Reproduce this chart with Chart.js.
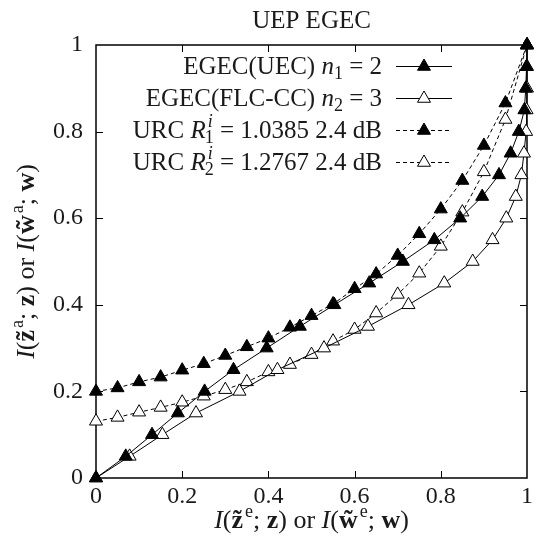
<!DOCTYPE html>
<html>
<head>
<meta charset="utf-8">
<title>UEP EGEC</title>
<script src="https://cdn.jsdelivr.net/npm/chart.js@4"></script>
<style>
  html, body { margin: 0; padding: 0; background: #fff; }
  canvas { display: block; }
</style>
</head>
<body>
<canvas id="exitChart" width="537" height="544"></canvas>
<script>
// EXIT chart data.
// EGEC curves are plotted inverted: y is fixed in 0.05 steps, x varies.
const egecY = [0, 0.05, 0.1, 0.15, 0.2, 0.25, 0.3, 0.35, 0.4, 0.45, 0.5,
  0.55, 0.6, 0.65, 0.7, 0.75, 0.8, 0.85, 0.9, 0.95, 1];
const uecX = [0, 0.069, 0.13, 0.19, 0.252, 0.319, 0.396, 0.473, 0.553, 0.634, 0.712,
  0.785, 0.845, 0.896, 0.935, 0.962, 0.981, 0.994, 0.997, 0.999, 1];
const flcX = [0, 0.078, 0.154, 0.232, 0.333, 0.421, 0.529, 0.631, 0.725, 0.808, 0.874,
  0.92, 0.952, 0.974, 0.987, 0.993, 0.998, 0.999, 1, 1, 1];

// URC curves sampled at fixed x.
const urcX = [0, 0.05, 0.1, 0.15, 0.2, 0.25, 0.3, 0.35, 0.4, 0.45, 0.5,
  0.55, 0.6, 0.65, 0.7, 0.75, 0.8, 0.85, 0.9, 0.95, 1];
const urc1Y = [0.2, 0.208, 0.222, 0.233, 0.249, 0.264, 0.283, 0.303, 0.323, 0.348, 0.375,
  0.402, 0.437, 0.471, 0.514, 0.564, 0.621, 0.687, 0.768, 0.866, 1];
const urc2Y = [0.131, 0.14, 0.152, 0.163, 0.175, 0.189, 0.204, 0.222, 0.245, 0.262, 0.285,
  0.316, 0.343, 0.381, 0.424, 0.473, 0.535, 0.614, 0.707, 0.828, 1];

const axisTicks = [0, 0.2, 0.4, 0.6, 0.8, 1];

const SERIF = "'Liberation Serif', serif";
const INK = "#1a1a1a";
const TICK_SIZE = 24;
const TEXT_SIZE = 25;
const AXIS_TITLE_SIZE = 26;

const toPoints = (xs, ys) => xs.map((x, i) => ({ x, y: ys[i] }));

// ---- small rich-text helper (italic / bold / tilde / scripts) ----
function fontFor(style, size) {
  const italic = style === "i" ? "italic " : "";
  const bold = style === "b" ? "bold " : "";
  return `${italic}${bold}${size}px ${SERIF}`;
}

function partWidth(ctx, p, size) {
  const small = Math.round(size * 0.7);
  ctx.font = fontFor(p.s, size);
  const bw = ctx.measureText(p.t).width;
  let sw = 0;
  if (p.sup) {
    ctx.font = fontFor(p.supS || "r", small);
    sw = ctx.measureText(p.sup).width + (p.supDx || 1);
  }
  if (p.sub) {
    ctx.font = fontFor("r", small);
    sw = Math.max(sw, ctx.measureText(p.sub).width + (p.subDx || 0));
  }
  return bw + sw;
}

function drawRich(ctx, parts, x, y, size, align) {
  const small = Math.round(size * 0.7);
  const total = parts.reduce((w, p) => w + partWidth(ctx, p, size), 0);
  let cx = align === "right" ? x - total : align === "center" ? x - total / 2 : x;
  ctx.textAlign = "left";
  ctx.textBaseline = "alphabetic";
  parts.forEach((p) => {
    ctx.font = fontFor(p.s, size);
    ctx.fillText(p.t, cx, y);
    const bw = ctx.measureText(p.t).width;
    if (p.tilde) {
      const tw = ctx.measureText("\u02DC").width;
      ctx.fillText("\u02DC", cx + (bw - tw) / 2, y);
    }
    let sw = 0;
    if (p.sup) {
      ctx.font = fontFor(p.supS || "r", small);
      const dx = p.supDx || 1;
      ctx.fillText(p.sup, cx + bw + dx, y - size * 0.42);
      sw = ctx.measureText(p.sup).width + dx;
    }
    if (p.sub) {
      ctx.font = fontFor("r", small);
      const dx = p.subDx || 0;
      ctx.fillText(p.sub, cx + bw + dx, y + size * 0.22);
      sw = Math.max(sw, ctx.measureText(p.sub).width + dx);
    }
    cx += bw + sw;
  });
}

function triangle(ctx, x, y, r, filled) {
  ctx.beginPath();
  for (let k = 0; k < 3; k++) {
    const a = (k * 2 * Math.PI) / 3;
    const px = x + Math.sin(a) * r;
    const py = y - Math.cos(a) * r;
    if (k === 0) ctx.moveTo(px, py); else ctx.lineTo(px, py);
  }
  ctx.closePath();
  ctx.fillStyle = filled ? "#000" : "#fff";
  ctx.fill();
  ctx.strokeStyle = "#000";
  ctx.lineWidth = 1;
  ctx.stroke();
}

const xTitle = [
  { t: "I", s: "i" }, { t: "(", s: "r" },
  { t: "z", s: "b", tilde: true, sup: "e", supDx: 2 }, { t: "; ", s: "r" },
  { t: "z", s: "b" }, { t: ") or ", s: "r" },
  { t: "I", s: "i" }, { t: "(", s: "r" },
  { t: "w", s: "b", tilde: true, sup: "e", supDx: 2 }, { t: "; ", s: "r" },
  { t: "w", s: "b" }, { t: ")", s: "r" }
];
const yTitle = xTitle.map((p) => (p.sup === "e" ? { ...p, sup: "a" } : p));

const legendRows = [
  { parts: [{ t: "EGEC(UEC) ", s: "r" }, { t: "n", s: "i", sub: "1" }, { t: " = 2", s: "r" }], filled: true, dash: [] },
  { parts: [{ t: "EGEC(FLC-CC) ", s: "r" }, { t: "n", s: "i", sub: "2" }, { t: " = 3", s: "r" }], filled: false, dash: [] },
  { parts: [{ t: "URC ", s: "r" }, { t: "R", s: "i", sup: "i", supS: "i", supDx: 2, sub: "1", subDx: -1 }, { t: " = 1.0385 2.4 dB", s: "r" }], filled: true, dash: [4, 3] },
  { parts: [{ t: "URC ", s: "r" }, { t: "R", s: "i", sup: "i", supS: "i", supDx: 2, sub: "2", subDx: -1 }, { t: " = 1.2767 2.4 dB", s: "r" }], filled: false, dash: [4, 3] }
];

// Frame with inward ticks on all four sides, drawn under the data.
const framePlugin = {
  id: "frame",
  beforeDatasetsDraw(chart) {
    const { ctx, chartArea: a, scales } = chart;
    ctx.save();
    ctx.strokeStyle = "#000";
    ctx.lineWidth = 1;
    ctx.beginPath();
    axisTicks.slice(1, -1).forEach((v) => {
      const px = Math.round(scales.x.getPixelForValue(v)) + 0.5;
      ctx.moveTo(px, a.bottom); ctx.lineTo(px, a.bottom - 7);
      ctx.moveTo(px, a.top); ctx.lineTo(px, a.top + 7);
      const py = Math.round(scales.y.getPixelForValue(v)) + 0.5;
      ctx.moveTo(a.left, py); ctx.lineTo(a.left + 7, py);
      ctx.moveTo(a.right, py); ctx.lineTo(a.right - 7, py);
    });
    ctx.stroke();
    ctx.lineWidth = 1.5;
    ctx.strokeRect(a.left, a.top, a.right - a.left, a.bottom - a.top);
    ctx.restore();
  }
};

// Title, axis titles and the in-plot legend.
const textPlugin = {
  id: "texts",
  afterDatasetsDraw(chart) {
    const { ctx, chartArea: a } = chart;
    const midX = (a.left + a.right) / 2;
    const midY = (a.top + a.bottom) / 2;
    ctx.save();
    ctx.fillStyle = INK;
    ctx.font = fontFor("r", TEXT_SIZE);
    ctx.textAlign = "center";
    ctx.textBaseline = "alphabetic";
    ctx.fillText("UEP EGEC", midX, 28);

    drawRich(ctx, xTitle, midX, 528, AXIS_TITLE_SIZE, "center");

    ctx.save();
    ctx.translate(34, midY);
    ctx.rotate(-Math.PI / 2);
    drawRich(ctx, yTitle, 0, 0, AXIS_TITLE_SIZE, "center");
    ctx.restore();

    legendRows.forEach((row, i) => {
      const base = 73.5 + i * 32;
      const lineY = base - 7;
      ctx.fillStyle = INK;
      drawRich(ctx, row.parts, 382, base, TEXT_SIZE, "right");
      ctx.save();
      ctx.strokeStyle = "#000";
      ctx.lineWidth = 1;
      ctx.setLineDash(row.dash);
      ctx.beginPath();
      ctx.moveTo(396, lineY);
      ctx.lineTo(452, lineY);
      ctx.stroke();
      ctx.setLineDash([]);
      triangle(ctx, 424, lineY, 7.5, row.filled);
      ctx.restore();
    });
    ctx.restore();
  }
};

function series(label, points, filled, dash) {
  return {
    label,
    data: points,
    showLine: true,
    clip: false,
    borderColor: "#000",
    borderWidth: 1,
    borderDash: dash,
    pointStyle: "triangle",
    pointRadius: 7.5,
    pointHoverRadius: 7.5,
    pointBackgroundColor: filled ? "#000" : "#fff",
    pointBorderColor: "#000",
    pointBorderWidth: 1
  };
}

const tickFormat = (value) => String(Number(value.toFixed(1)));

new Chart(document.getElementById("exitChart"), {
  type: "scatter",
  data: {
    datasets: [
      series("EGEC(UEC) n1 = 2", toPoints(uecX, egecY), true, []),
      series("EGEC(FLC-CC) n2 = 3", toPoints(flcX, egecY), false, []),
      series("URC R1 = 1.0385 2.4 dB", toPoints(urcX, urc1Y), true, [4, 3]),
      series("URC R2 = 1.2767 2.4 dB", toPoints(urcX, urc2Y), false, [4, 3])
    ]
  },
  options: {
    responsive: false,
    animation: false,
    layout: { padding: { top: 45, right: 8, left: 0, bottom: 0 } },
    plugins: { legend: { display: false }, tooltip: { enabled: false } },
    scales: {
      x: {
        type: "linear",
        min: 0,
        max: 1,
        afterFit: (scale) => { scale.height = 66; },
        afterBuildTicks: (scale) => { scale.ticks = axisTicks.map((value) => ({ value })); },
        grid: { display: false, drawTicks: false },
        border: { display: false },
        ticks: { padding: 4, color: INK, font: { family: SERIF, size: TICK_SIZE }, callback: tickFormat }
      },
      y: {
        type: "linear",
        min: 0,
        max: 1,
        afterFit: (scale) => { scale.width = 96; },
        afterBuildTicks: (scale) => { scale.ticks = axisTicks.map((value) => ({ value })); },
        grid: { display: false, drawTicks: false },
        border: { display: false },
        ticks: { padding: 13, color: INK, font: { family: SERIF, size: TICK_SIZE }, callback: tickFormat }
      }
    }
  },
  plugins: [framePlugin, textPlugin]
});
</script>
</body>
</html>
